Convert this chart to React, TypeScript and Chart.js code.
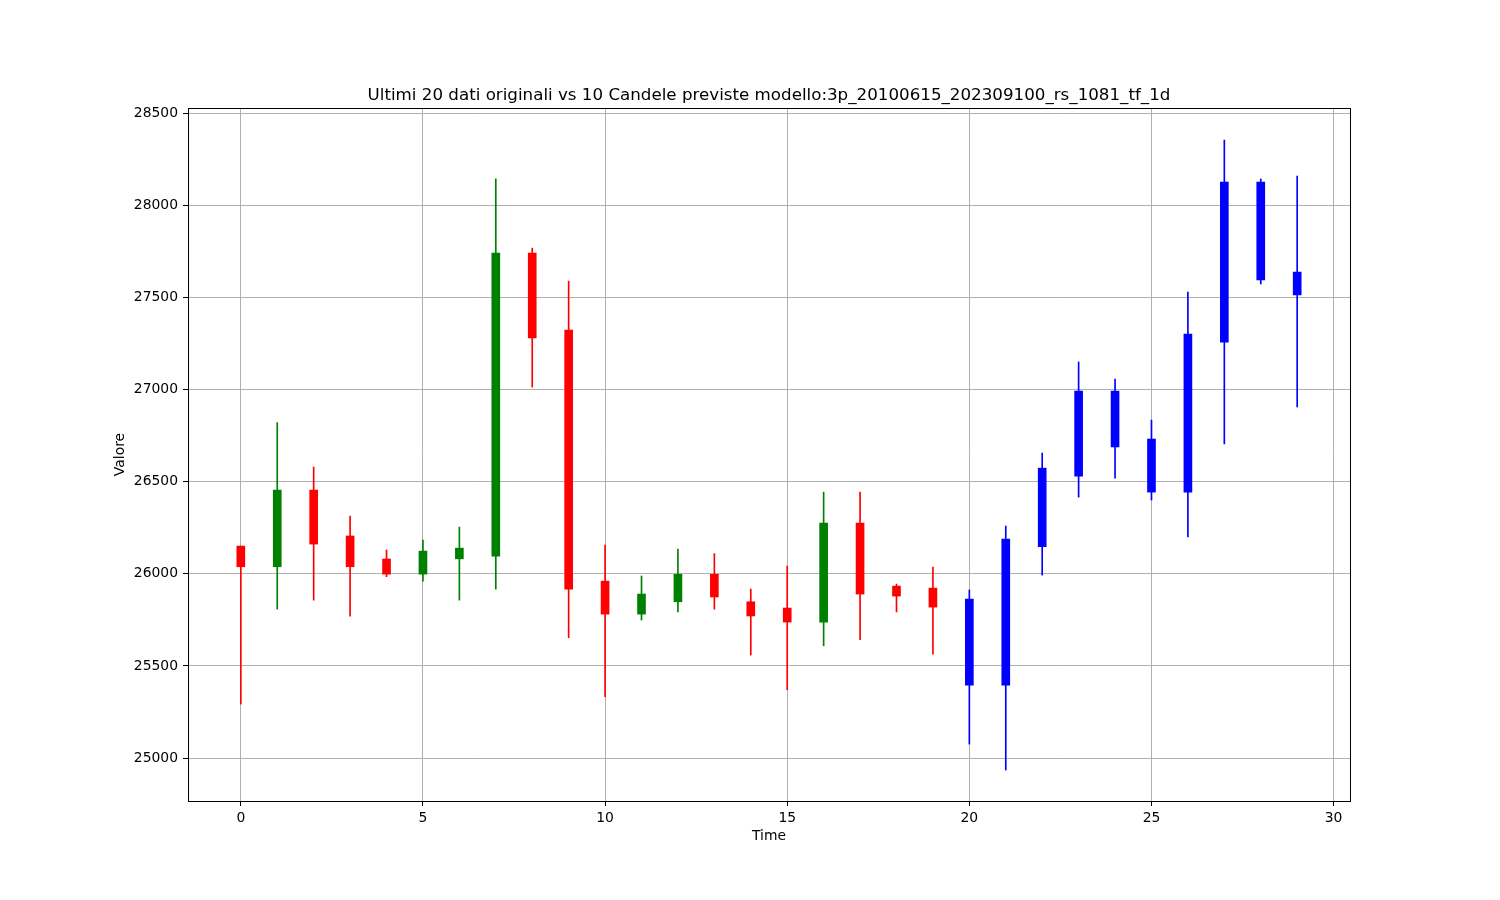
import React, { useEffect, useRef } from "react";
import { Chart, registerables } from "chart.js";

Chart.register(...registerables);

const TITLE =
  "Ultimi 20 dati originali vs 10 Candele previste modello:3p_20100615_202309100_rs_1081_tf_1d";
const X_LABEL = "Time";
const Y_LABEL = "Valore";

const times = [
  0, 1, 2, 3, 4, 5, 6, 7, 8, 9, 10, 11, 12, 13, 14, 15, 16, 17, 18, 19,
  20, 21, 22, 23, 24, 25, 26, 27, 28, 29,
];
const opens = [
  26150, 26038, 26454, 26205, 26080, 25998, 26081, 26096, 27740, 27322,
  25960, 25781, 25848, 25997, 25848, 25814, 25738, 26275, 25933, 25922,
  25396, 25396, 26147, 26530, 26688, 26443, 26443, 27257, 27594, 27513,
];
const closes = [
  26038, 26454, 26161, 26038, 25998, 26123, 26139, 27740, 27279, 25917,
  25781, 25890, 25997, 25874, 25771, 25738, 26275, 25890, 25879, 25819,
  25863, 26188, 26573, 26991, 26991, 26731, 27301, 28125, 28125, 27637,
];
const highs = [
  26150, 26820, 26579, 26313, 26129, 26183, 26253, 28143, 27767, 27588,
  26156, 25988, 26134, 26109, 25917, 26042, 26443, 26443, 25944, 26036,
  25912, 26259, 26655, 27149, 27057, 26834, 27529, 28353, 28142, 28158,
];
const lows = [
  25293, 25808, 25857, 25770, 25984, 25960, 25857, 25917, 27013, 25653,
  25333, 25749, 25793, 25808, 25559, 25371, 25609, 25642, 25793, 25564,
  25076, 24935, 25993, 26416, 26519, 26400, 26200, 26704, 27572, 26905,
];
const ORIGINAL_COUNT = 20;

const xTicks = [0, 5, 10, 15, 20, 25, 30];
const yTicks = [25000, 25500, 26000, 26500, 27000, 27500, 28000, 28500];

const FONT = "'DejaVu Sans', sans-serif";

function candleColor(i: number): string {
  if (i >= ORIGINAL_COUNT) return "#0000ff";
  return closes[i] >= opens[i] ? "#008000" : "#ff0000";
}

const frame = {
  id: "frame",
  afterDraw(chart: any) {
    const { ctx, chartArea } = chart;
    ctx.save();
    ctx.strokeStyle = "#000";
    ctx.lineWidth = 1;
    ctx.strokeRect(
      Math.round(chartArea.left) + 0.5,
      Math.round(chartArea.top) + 0.5,
      Math.round(chartArea.right - chartArea.left),
      Math.round(chartArea.bottom - chartArea.top)
    );
    ctx.restore();
  },
};

export default function App() {
  const ref = useRef<HTMLCanvasElement>(null);
  useEffect(() => {
    if (!ref.current) return;
    const colors = times.map((_, i) => candleColor(i));
    const chart = new Chart(ref.current, {
      type: "bar",
      data: {
        datasets: [
          {
            label: "body",
            data: times.map((t, i) => ({
              x: t,
              y: [Math.min(opens[i], closes[i]), Math.max(opens[i], closes[i])],
            })) as any,
            backgroundColor: colors,
            borderWidth: 0,
            barThickness: 8,
            grouped: false,
          } as any,
          {
            label: "wick",
            data: times.map((t, i) => ({ x: t, y: [lows[i], highs[i]] })) as any,
            backgroundColor: colors,
            borderWidth: 0,
            barThickness: 1,
            grouped: false,
          } as any,
        ],
      },
      options: {
        responsive: false,
        animation: false,
        layout: { padding: { left: 0, right: 150, top: 0, bottom: 0 } },
        plugins: {
          legend: { display: false },
          tooltip: { enabled: false },
          title: {
            display: true,
            text: TITLE,
            color: "#000",
            fullSize: false,
            font: { family: FONT, size: 16.7, weight: "normal" },
            padding: { top: 86, bottom: 2 },
          },
        },
        scales: {
          x: {
            type: "linear",
            min: -1.45,
            max: 30.45,
            offset: false,
            afterBuildTicks: (s: any) => {
              s.ticks = xTicks.map((v) => ({ value: v }));
            },
            afterFit: (s: any) => {
              s.height = 99;
            },
            grid: {
              color: "#b0b0b0",
              lineWidth: 1,
              offset: false,
              tickColor: "#000",
              tickLength: 5,
            },
            border: { display: false },
            ticks: {
              color: "#000",
              font: { family: FONT, size: 13.9 },
              padding: 4,
              maxRotation: 0,
              autoSkip: false,
              callback: (v: any) => String(v),
            },
            title: {
              display: true,
              text: X_LABEL,
              color: "#000",
              font: { family: FONT, size: 13.9 },
              padding: { top: 0, bottom: 55.5 },
            },
          },
          y: {
            type: "linear",
            min: 24767,
            max: 28527,
            afterBuildTicks: (s: any) => {
              s.ticks = yTicks.map((v) => ({ value: v }));
            },
            afterFit: (s: any) => {
              s.width = 188;
            },
            grid: {
              color: "#b0b0b0",
              lineWidth: 1,
              tickColor: "#000",
              tickLength: 5,
            },
            border: { display: false },
            ticks: {
              color: "#000",
              font: { family: FONT, size: 13.9 },
              padding: 5,
              autoSkip: false,
              callback: (v: any) => String(v),
            },
            title: {
              display: true,
              text: Y_LABEL,
              color: "#000",
              font: { family: FONT, size: 13.9 },
              padding: { top: 111.7, bottom: 0 },
            },
          },
        },
      },
      plugins: [frame],
    });
    return () => chart.destroy();
  }, []);
  return (
    <div style={{ position: "absolute", left: 0, top: 0, width: 1500, height: 900, background: "#fff" }}>
      <canvas ref={ref} width={1500} height={900} style={{ width: 1500, height: 900 }} />
    </div>
  );
}
